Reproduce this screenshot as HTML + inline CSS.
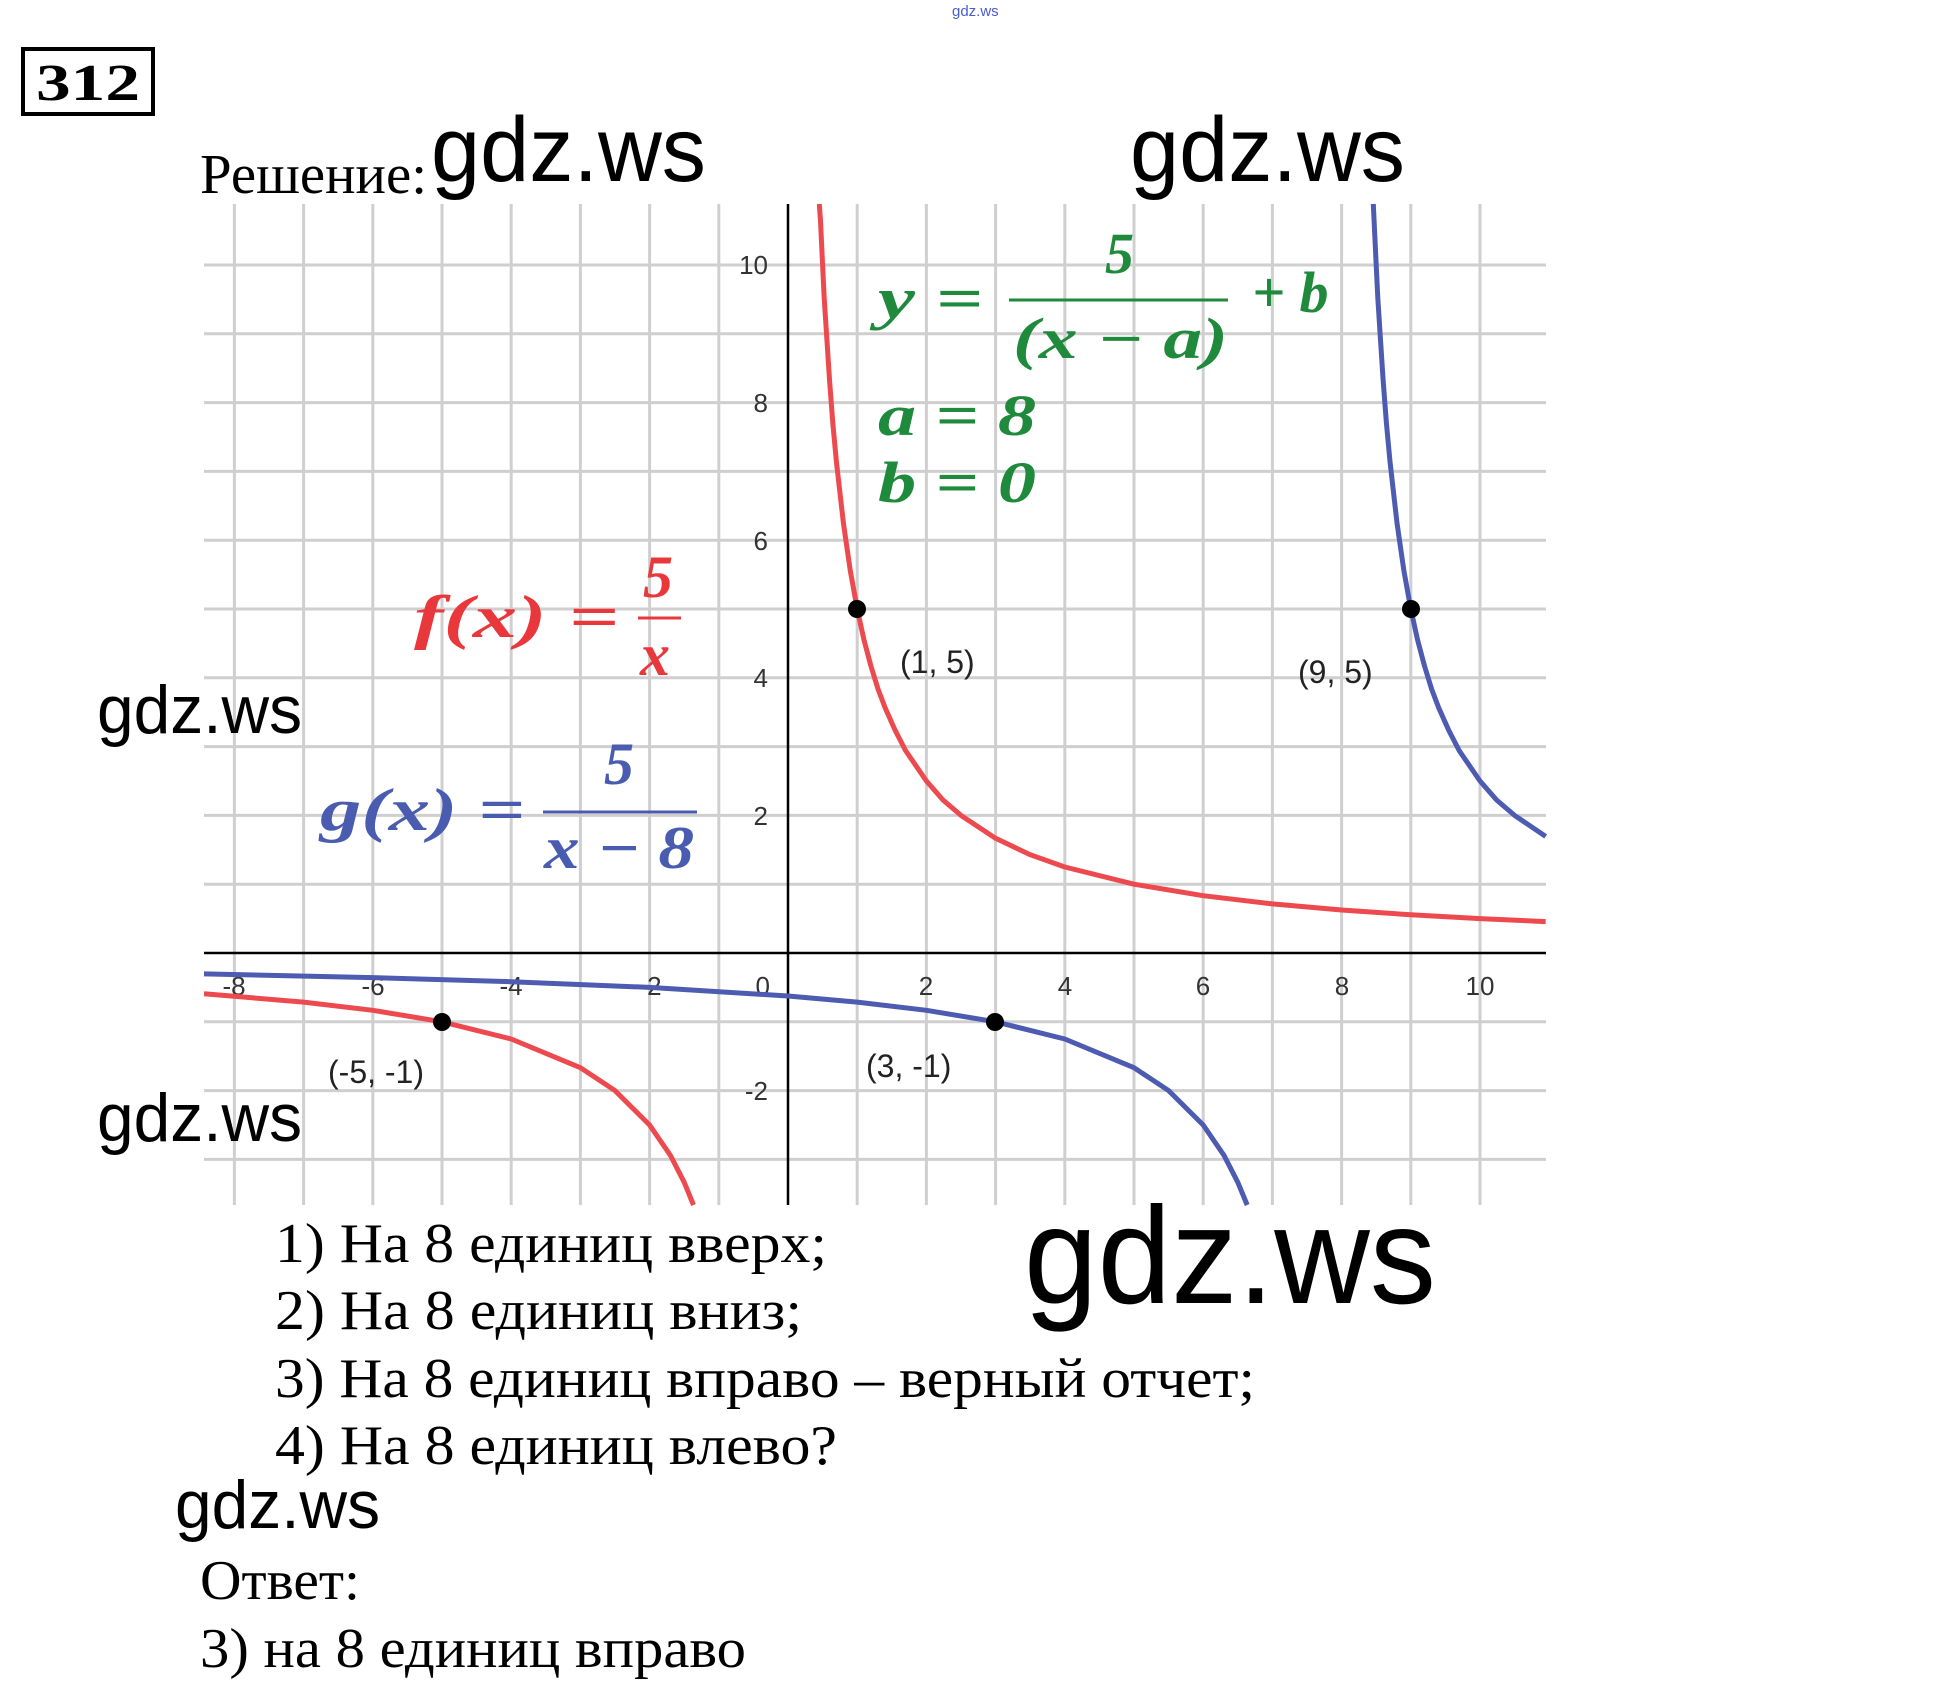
<!DOCTYPE html>
<html><head><meta charset="utf-8"><style>
html,body{margin:0;padding:0;background:#fff;}
svg{display:block;}
</style></head><body>
<svg width="1948" height="1690" xmlns="http://www.w3.org/2000/svg">
<rect width="1948" height="1690" fill="#fff"/>
<g stroke="#cfcfcf" stroke-width="3">
<line x1="234.4" y1="204" x2="234.4" y2="1205"/><line x1="303.6" y1="204" x2="303.6" y2="1205"/>
<line x1="372.8" y1="204" x2="372.8" y2="1205"/><line x1="442" y1="204" x2="442" y2="1205"/>
<line x1="511.2" y1="204" x2="511.2" y2="1205"/><line x1="580.4" y1="204" x2="580.4" y2="1205"/>
<line x1="649.6" y1="204" x2="649.6" y2="1205"/><line x1="718.8" y1="204" x2="718.8" y2="1205"/>
<line x1="857.2" y1="204" x2="857.2" y2="1205"/><line x1="926.4" y1="204" x2="926.4" y2="1205"/>
<line x1="995.6" y1="204" x2="995.6" y2="1205"/><line x1="1064.8" y1="204" x2="1064.8" y2="1205"/>
<line x1="1134" y1="204" x2="1134" y2="1205"/><line x1="1203.2" y1="204" x2="1203.2" y2="1205"/>
<line x1="1272.4" y1="204" x2="1272.4" y2="1205"/><line x1="1341.6" y1="204" x2="1341.6" y2="1205"/>
<line x1="1410.8" y1="204" x2="1410.8" y2="1205"/><line x1="1480" y1="204" x2="1480" y2="1205"/>
<line x1="204" y1="1159.4" x2="1546" y2="1159.4"/><line x1="204" y1="1090.6" x2="1546" y2="1090.6"/>
<line x1="204" y1="1021.8" x2="1546" y2="1021.8"/><line x1="204" y1="884.2" x2="1546" y2="884.2"/>
<line x1="204" y1="815.4" x2="1546" y2="815.4"/><line x1="204" y1="746.6" x2="1546" y2="746.6"/>
<line x1="204" y1="677.8" x2="1546" y2="677.8"/><line x1="204" y1="609" x2="1546" y2="609"/>
<line x1="204" y1="540.2" x2="1546" y2="540.2"/><line x1="204" y1="471.4" x2="1546" y2="471.4"/>
<line x1="204" y1="402.6" x2="1546" y2="402.6"/><line x1="204" y1="333.8" x2="1546" y2="333.8"/>
<line x1="204" y1="265" x2="1546" y2="265"/>
</g>
<line x1="204" y1="953" x2="1546" y2="953" stroke="#000" stroke-width="2.5"/>
<line x1="788" y1="204" x2="788" y2="1205" stroke="#000" stroke-width="2.5"/>
<g font-family="Liberation Sans, sans-serif" font-size="26" fill="#333" text-anchor="middle">
<text x="234" y="995">-8</text><text x="373" y="995">-6</text><text x="511" y="995">-4</text><text x="650" y="995">-2</text>
<text x="926" y="995">2</text><text x="1065" y="995">4</text><text x="1203" y="995">6</text><text x="1342" y="995">8</text><text x="1480" y="995">10</text>
</g>
<g font-family="Liberation Sans, sans-serif" font-size="26" fill="#333" text-anchor="end">
<text x="770" y="995">0</text>
<text x="768" y="274">10</text><text x="768" y="412">8</text><text x="768" y="550">6</text>
<text x="768" y="687">4</text><text x="768" y="825">2</text><text x="768" y="1100">-2</text>
</g>
<g fill="none" stroke-width="5" stroke-linejoin="round">
<polyline stroke="#ec4a4e" points="819.3,204 820.5,221 822.6,265 824.2,298 826.1,327.5 829.5,379.7 832.8,423 836.4,461.6 843.4,523 850.3,570.8 857.2,609 864,640 871,666.3 878,689 884.9,707.3 895,730 905.6,750.6 926.4,781 943,800 961,815.4 995.6,838.3 1030.2,854.7 1064.8,867 1134,884.2 1203.2,895.7 1272.4,903.9 1341.6,910 1410.8,914.8 1480,918.6 1545.7,921.6"/>
<polyline stroke="#ec4a4e" points="204,993.8 303.6,1002.1 372.8,1010.3 442,1021.8 511.2,1039 580.4,1067.7 615,1090.6 649.6,1125 670.4,1155.4 684.2,1182.3 693.5,1205"/>
<polyline stroke="#4d5bb0" points="204,973.9 372.8,977.6 511.2,981.7 649.6,987.4 788,996 857.2,1002.1 926.4,1010.3 995.6,1021.8 1064.8,1039 1134,1067.7 1168.6,1090.6 1203.2,1125 1224,1155.4 1237.8,1182.3 1247.2,1205"/>
<polyline stroke="#4d5bb0" points="1373.3,204 1374.1,221 1376.2,265 1377.8,298 1379.7,327.5 1383.1,379.7 1386.4,423 1390,461.6 1397,523 1403.9,570.8 1410.8,609 1417.6,640 1424.6,666.3 1431.6,689 1438.5,707.3 1448.6,730 1459.2,750.6 1480,781 1496.6,800 1514.6,815.4 1545.7,836.4"/>
</g>
<g fill="#000">
<circle cx="857" cy="609" r="9"/><circle cx="1411" cy="609" r="9"/>
<circle cx="442" cy="1022" r="9"/><circle cx="995" cy="1022" r="9"/>
</g>
<g font-family="Liberation Sans, sans-serif" font-size="32" fill="#222">
<text x="900" y="673">(1, 5)</text>
<text x="1298" y="683">(9, 5)</text>
<text x="328" y="1083">(-5, -1)</text>
<text x="866" y="1077">(3, -1)</text>
</g>
<g font-family="Liberation Serif, serif" font-style="italic" font-weight="bold" font-size="58" fill="#1f8a3c">
<text x="878" y="318" textLength="105" lengthAdjust="spacingAndGlyphs">y =</text>
<line x1="1009" y1="300" x2="1228" y2="300" stroke="#1f8a3c" stroke-width="3"/>
<text x="1105" y="273">5</text>
<text x="1013" y="358" textLength="215" lengthAdjust="spacingAndGlyphs">(x − a)</text>
<text x="1252" y="312">+ b</text>
<text x="878" y="435" textLength="158" lengthAdjust="spacingAndGlyphs">a = 8</text>
<text x="878" y="502" textLength="158" lengthAdjust="spacingAndGlyphs">b = 0</text>
</g>
<g font-family="Liberation Serif, serif" font-style="italic" font-weight="bold" font-size="60" fill="#e8383c">
<text x="414" y="637" textLength="205" lengthAdjust="spacingAndGlyphs">f(x) =</text>
<line x1="638" y1="618" x2="681" y2="618" stroke="#e8383c" stroke-width="3"/>
<text x="643" y="597">5</text>
<text x="640" y="675">x</text>
</g>
<g font-family="Liberation Serif, serif" font-style="italic" font-weight="bold" font-size="60" fill="#4a5cb0">
<text x="320" y="830" textLength="205" lengthAdjust="spacingAndGlyphs">g(x) =</text>
<line x1="543" y1="812" x2="697" y2="812" stroke="#4a5cb0" stroke-width="3"/>
<text x="604" y="784">5</text>
<text x="544" y="868" textLength="150" lengthAdjust="spacingAndGlyphs">x − 8</text>
</g>
<rect x="23" y="49" width="130" height="65" fill="none" stroke="#000" stroke-width="4"/>
<text x="36" y="100" font-family="Liberation Serif, serif" font-weight="bold" font-size="52" textLength="104" lengthAdjust="spacingAndGlyphs">312</text>
<g font-family="Liberation Serif, serif" font-size="56" fill="#000" lengthAdjust="spacingAndGlyphs">
<text x="200" y="193" textLength="227" lengthAdjust="spacingAndGlyphs">Решение:</text>
<text x="275" y="1262" textLength="552" lengthAdjust="spacingAndGlyphs">1)  На 8 единиц вверх;</text>
<text x="275" y="1329" textLength="527" lengthAdjust="spacingAndGlyphs">2)  На 8 единиц вниз;</text>
<text x="275" y="1397" textLength="980" lengthAdjust="spacingAndGlyphs">3)  На 8 единиц вправо – верный отчет;</text>
<text x="275" y="1464" textLength="562" lengthAdjust="spacingAndGlyphs">4)  На 8 единиц влево?</text>
<text x="200" y="1599" textLength="160" lengthAdjust="spacingAndGlyphs">Ответ:</text>
<text x="200" y="1667" textLength="546" lengthAdjust="spacingAndGlyphs">3) на 8 единиц вправо</text>
</g>
<g font-family="Liberation Sans, sans-serif" fill="#000">
<text x="431" y="181" font-size="92" textLength="275" lengthAdjust="spacingAndGlyphs">gdz.ws</text>
<text x="1130" y="181" font-size="92" textLength="275" lengthAdjust="spacingAndGlyphs">gdz.ws</text>
<text x="97" y="733" font-size="68" textLength="205" lengthAdjust="spacingAndGlyphs">gdz.ws</text>
<text x="97" y="1141" font-size="68" textLength="205" lengthAdjust="spacingAndGlyphs">gdz.ws</text>
<text x="175" y="1528" font-size="68" textLength="205" lengthAdjust="spacingAndGlyphs">gdz.ws</text>
<text x="1024" y="1303" font-size="138" textLength="412" lengthAdjust="spacingAndGlyphs">gdz.ws</text>
<text x="952" y="16" font-size="15" fill="#4a5cd0">gdz.ws</text>
</g>
</svg>
</body></html>
